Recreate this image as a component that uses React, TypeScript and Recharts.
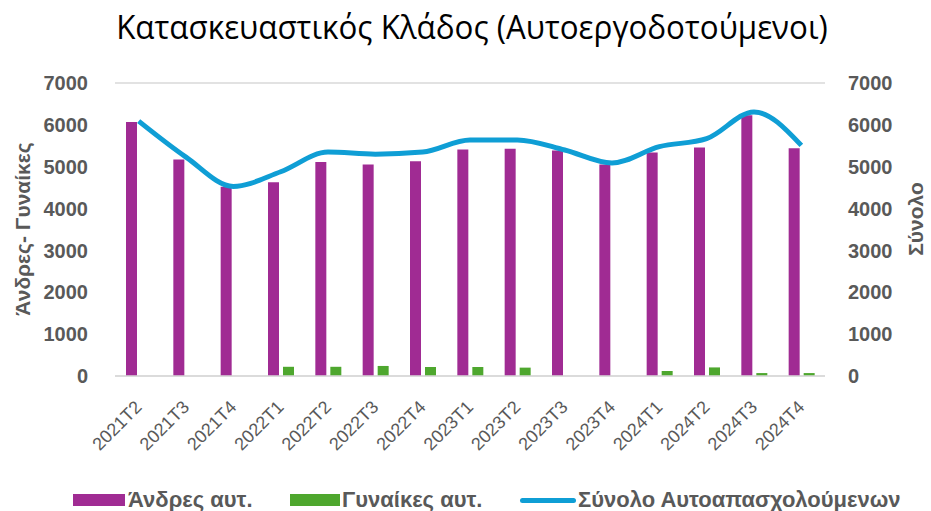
import React from "react";
import { Bar, CartesianGrid, ComposedChart, Line, XAxis, YAxis } from "recharts";

const quarters = [
  "2021T2", "2021T3", "2021T4", "2022T1", "2022T2", "2022T3", "2022T4", "2023T1",
  "2023T2", "2023T3", "2023T4", "2024T1", "2024T2", "2024T3", "2024T4",
];
const men = [6070, 5170, 4520, 4630, 5110, 5050, 5130, 5410, 5430, 5390, 5050, 5340, 5460, 6230, 5440];
const women = [0, 0, 0, 220, 220, 240, 215, 215, 200, 0, 0, 120, 205, 70, 70];
const total = [6090, 5230, 4530, 4880, 5350, 5300, 5350, 5640, 5640, 5400, 5090, 5480, 5670, 6310, 5510];
const yTicks = [0, 1000, 2000, 3000, 4000, 5000, 6000, 7000];

const data = quarters.map((q, i) => ({ q, men: men[i], women: women[i], total: total[i] }));

const PURPLE = "#A02B93";
const GREEN = "#4EA72E";
const BLUE = "#0F9ED5";
const GREY = "#595959";
const sans = "'Liberation Sans', Arial, sans-serif";

function XTick({ x, y, payload }: any) {
  return (
    <text
      x={x}
      y={y}
      transform={`rotate(-45 ${x} ${y})`}
      textAnchor="end"
      dominantBaseline="central"
      fill={GREY}
      fontSize={18}
      fontFamily={sans}
    >
      {payload.value}
    </text>
  );
}

export default function App() {
  const tick = { fill: GREY, fontSize: 20, fontWeight: 700, fontFamily: sans };
  return (
    <div style={{ position: "absolute", left: 0, top: 0, width: 931, height: 511, background: "#fff", overflow: "hidden" }}>
      <div
        style={{
          position: "absolute",
          top: 4,
          left: 0,
          width: 944,
          textAlign: "center",
          fontFamily: "'Open Sans', sans-serif",
          fontSize: 33,
          color: "#000",
          whiteSpace: "nowrap",
          transform: "scaleX(0.95)",
        }}
      >
        Κατασκευαστικός Κλάδος (Αυτοεργοδοτούμενοι)
      </div>

      {/* axis titles */}
      <div
        style={{
          position: "absolute",
          left: 23,
          top: 229,
          transform: "translate(-50%, -50%) rotate(-90deg)",
          whiteSpace: "nowrap",
          fontFamily: sans,
          fontWeight: 700,
          fontSize: 21,
          color: GREY,
        }}
      >
        Άνδρες- Γυναίκες
      </div>
      <div
        style={{
          position: "absolute",
          left: 916,
          top: 219,
          transform: "translate(-50%, -50%) rotate(-90deg)",
          whiteSpace: "nowrap",
          fontFamily: sans,
          fontWeight: 700,
          fontSize: 21,
          color: GREY,
        }}
      >
        Σύνολο
      </div>

      <ComposedChart width={931} height={511} data={data} margin={{ top: 83, right: 46, left: 55, bottom: 35 }}>
        <CartesianGrid vertical={false} stroke="#d9d9d9" strokeWidth={1.5} />
        <XAxis dataKey="q" axisLine={{ stroke: "#d9d9d9", strokeWidth: 1.5 }} tickLine={false} height={100} interval={0} tick={<XTick />} tickMargin={22} />
        <YAxis yAxisId="l" domain={[0, 7000]} ticks={yTicks} axisLine={false} tickLine={false} width={60} tickMargin={21} tick={tick} />
        <YAxis yAxisId="r" orientation="right" domain={[0, 7000]} ticks={yTicks} axisLine={false} tickLine={false} width={60} tickMargin={17} tick={{ ...tick, textAnchor: "start" }} />
        <Bar yAxisId="l" dataKey="men" fill={PURPLE} barSize={11} isAnimationActive={false} />
        <Bar yAxisId="l" dataKey="women" fill={GREEN} barSize={11} isAnimationActive={false} />
        <Line yAxisId="r" type="monotone" dataKey="total" stroke={BLUE} strokeWidth={5} dot={false} isAnimationActive={false} />
      </ComposedChart>

      {/* legend */}
      <div
        style={{
          position: "absolute",
          left: 73,
          top: 487,
          display: "flex",
          alignItems: "center",
          fontFamily: sans,
          fontWeight: 700,
          fontSize: 22,
          color: GREY,
          whiteSpace: "nowrap",
        }}
      >
        <span style={{ display: "inline-block", width: 52, height: 12, background: PURPLE, marginRight: 3 }} />
        <span style={{ display: "inline-block", width: 162 }}>Άνδρες αυτ.</span>
        <span style={{ display: "inline-block", width: 50, height: 12, background: GREEN, marginRight: 2 }} />
        <span style={{ display: "inline-block", width: 178 }}>Γυναίκες αυτ.</span>
        <span style={{ display: "inline-block", width: 56, height: 5, borderRadius: 3, background: BLUE, marginRight: 2 }} />
        <span>Σύνολο Αυτοαπασχολούμενων</span>
      </div>
    </div>
  );
}
